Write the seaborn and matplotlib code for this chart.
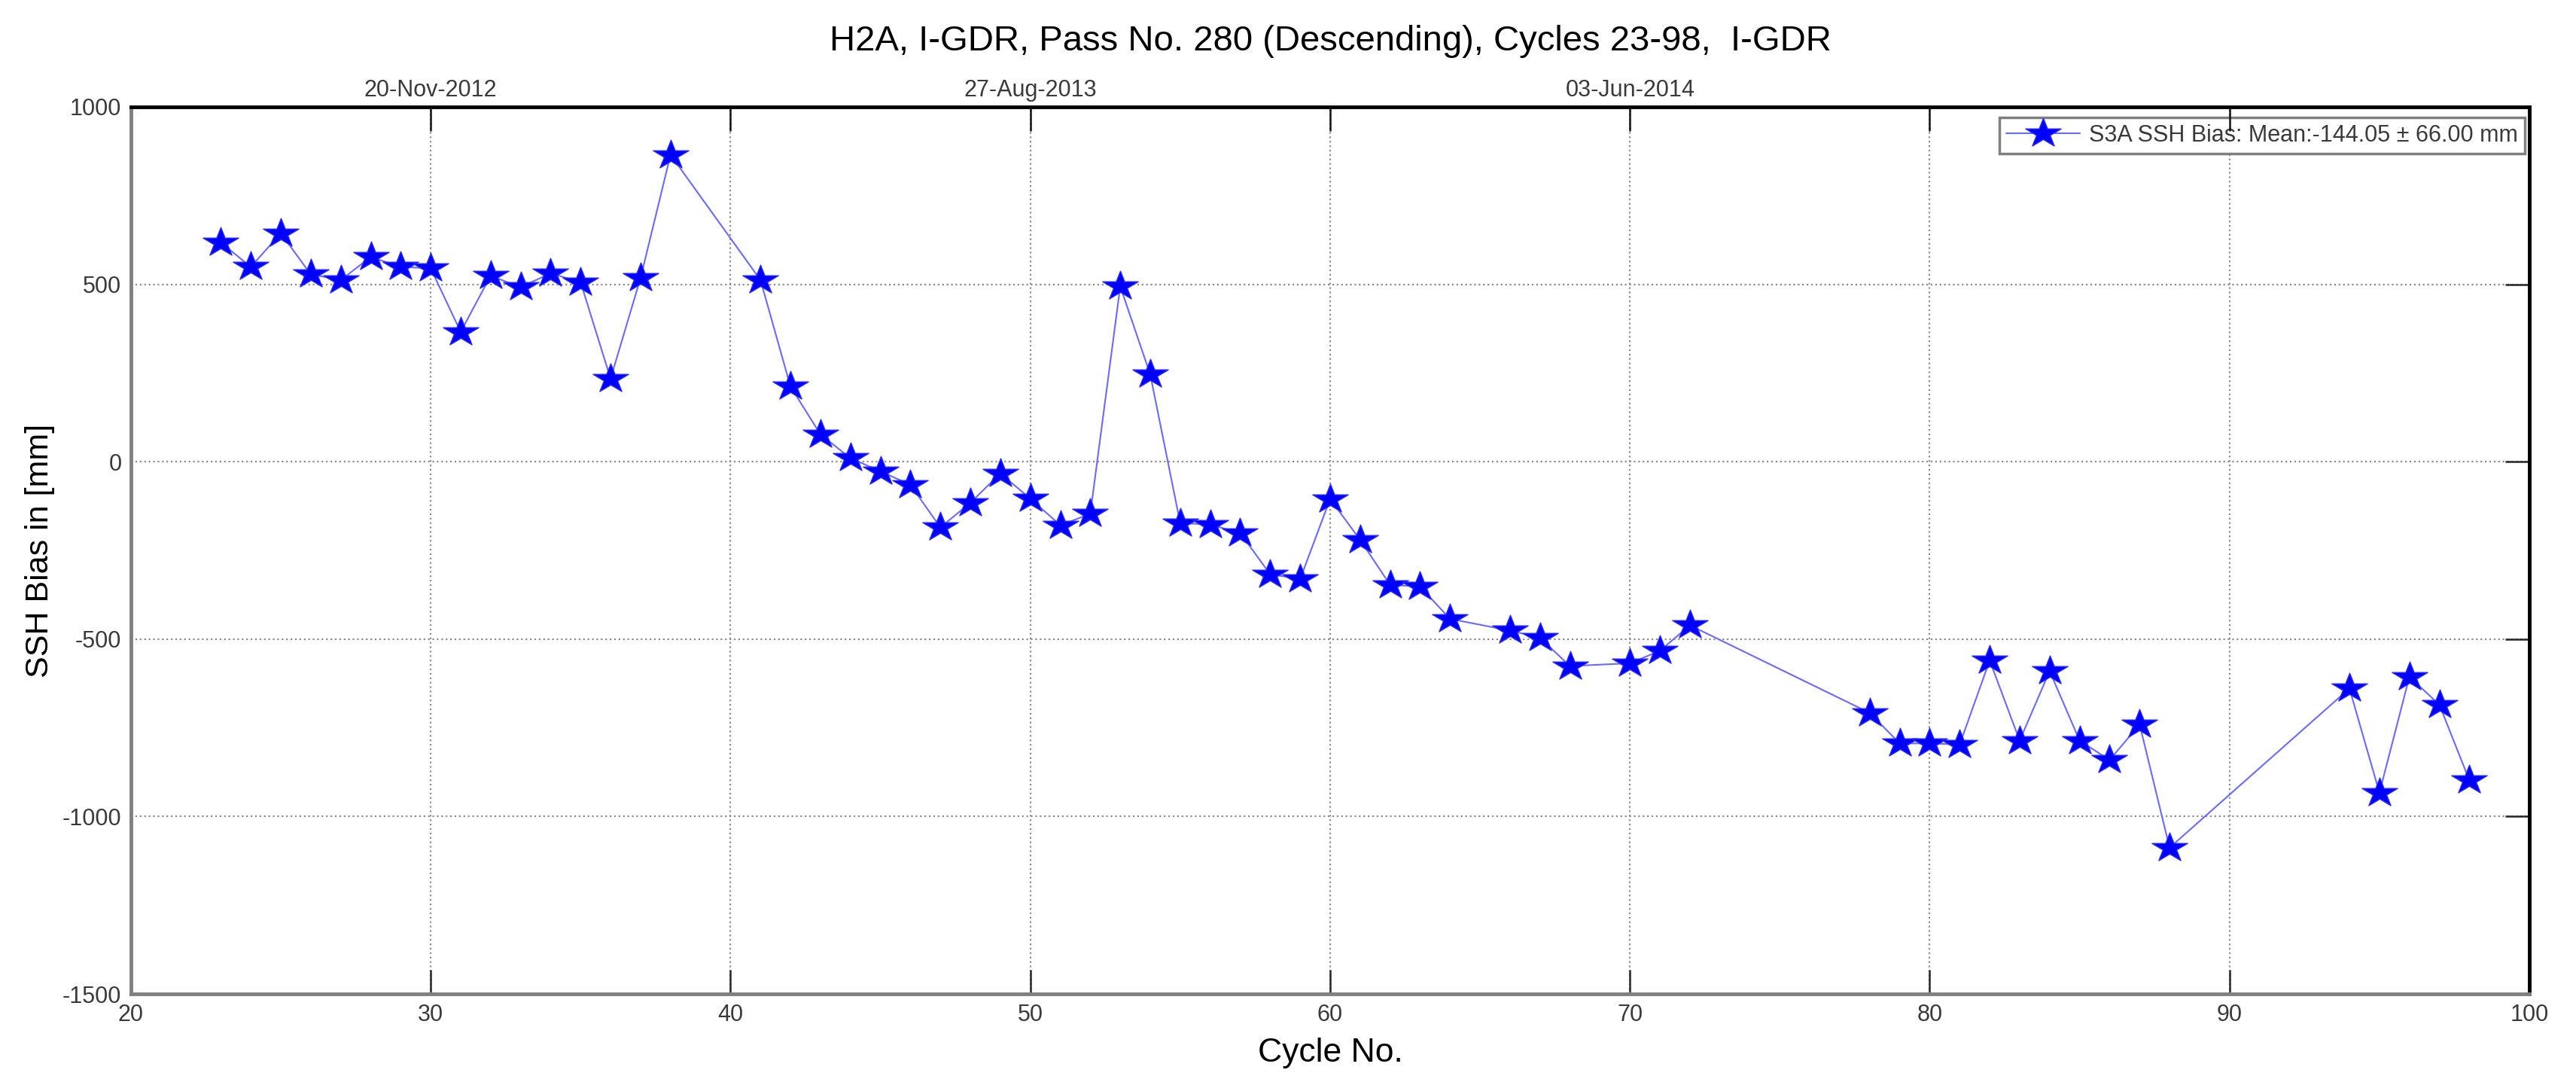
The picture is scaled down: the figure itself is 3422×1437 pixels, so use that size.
import numpy as np
import pandas as pd
import matplotlib
matplotlib.use("Agg")
import matplotlib.pyplot as plt
from matplotlib.path import Path
import seaborn as sns

# cycle numbers and SSH bias values (mm)
cycles = [23, 24, 25, 26, 27, 28, 29, 30, 31, 32, 33, 34, 35, 36, 37, 38,
          41, 42, 43, 44, 45, 46, 47, 48, 49, 50, 51, 52, 53, 54, 55, 56,
          57, 58, 59, 60, 61, 62, 63, 64, 66, 67, 68, 70, 71, 72,
          78, 79, 80, 81, 82, 83, 84, 85, 86, 87, 88,
          94, 95, 96, 97, 98]
ssh_bias = [618, 549, 644, 528, 512, 577, 549, 545, 366, 524, 492, 531, 506, 234, 518, 865,
            512, 212, 77, 10, -27, -65, -185, -116, -33, -104, -179, -147, 494, 246, -173, -177,
            -201, -317, -331, -105, -220, -347, -352, -443, -476, -496, -576, -568, -533, -461,
            -708, -794, -794, -797, -560, -786, -590, -786, -841, -740, -1088,
            -639, -933, -606, -685, -898]

x_ticks = [20, 30, 40, 50, 60, 70, 80, 90, 100]
y_ticks = [-1500, -1000, -500, 0, 500, 1000]
top_ticks = [30, 40, 50, 60, 70, 80, 90]
top_labels = ["20-Nov-2012", "", "27-Aug-2013", "", "03-Jun-2014", "", ""]

title = "H2A, I-GDR, Pass No. 280 (Descending), Cycles 23-98,  I-GDR"
legend_label = "S3A SSH Bias: Mean:-144.05 \u00b1 66.00 mm"

df = pd.DataFrame({"Cycle": cycles, "Bias": ssh_bias})

sns.set_theme(style="white")
plt.rcParams["font.family"] = ["Liberation Sans", "DejaVu Sans"]
plt.rcParams["axes.unicode_minus"] = False

# slightly wide star, like the stretched MATLAB pentagram
ang = np.pi / 2 + np.arange(10) * np.pi / 5
rad = np.where(np.arange(10) % 2 == 0, 1.0, 0.382)
star_verts = np.column_stack([1.22 * rad * np.cos(ang), rad * np.sin(ang)])
star_verts = np.vstack([star_verts, star_verts[:1]])
star = Path(star_verts, closed=True)

fig = plt.figure(figsize=(34.23, 14.37), dpi=100)
ax = fig.add_axes([0.0508, 0.0814, 0.9308, 0.8198])

sns.lineplot(data=df, x="Cycle", y="Bias", ax=ax, estimator=None,
             color="#6a6aff", linewidth=1.5, marker=star, markersize=34,
             markerfacecolor="#0000ff", markeredgecolor="#2828ff",
             markeredgewidth=1.0, label=legend_label)

ax.set_xlim(20, 100)
ax.set_ylim(-1500, 1000)
ax.set_xticks(x_ticks)
ax.set_yticks(y_ticks)
ax.grid(True, linestyle=":", color="#8c8c8c", linewidth=1.6)
ax.tick_params(direction="in", length=23, width=1.8, right=True, top=False,
               labelsize=22, pad=9, colors="#262626", labelcolor="#3a3a3a")

for side in ["top", "right"]:
    ax.spines[side].set_color("black")
    ax.spines[side].set_linewidth(3.5)
for side in ["left", "bottom"]:
    ax.spines[side].set_color("#808080")
    ax.spines[side].set_linewidth(3.5)

ax.set_xlabel("Cycle No.", fontsize=32, labelpad=11, color="black")
ax.set_ylabel("SSH Bias in [mm]", fontsize=31, labelpad=7, color="black")

# date axis on top
ax2 = ax.twiny()
ax2.set_xlim(ax.get_xlim())
ax2.set_xticks(top_ticks)
ax2.set_xticklabels(top_labels)
ax2.tick_params(direction="in", length=23, width=1.8, labelsize=22, pad=5,
                colors="#111111", labelcolor="#3a3a3a")
for s in ax2.spines.values():
    s.set_visible(False)

leg = ax.legend(loc="upper right", bbox_to_anchor=(0.9981, 0.9881), borderaxespad=0,
                fontsize=22, fancybox=False, framealpha=1, edgecolor="#808080",
                handlelength=3.2, handletextpad=0.4, borderpad=0.3)
leg.get_frame().set_linewidth(2.5)
for t in leg.get_texts():
    t.set_color("#3a3a3a")

fig.text(1767 / 3423, 1 - 67 / 1437, title, fontsize=34, ha="center", va="baseline", color="black")

fig.savefig("out.png", dpi=100)
